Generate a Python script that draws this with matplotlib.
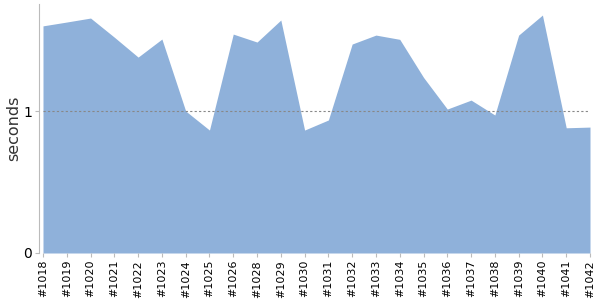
import matplotlib
matplotlib.use("Agg")
import matplotlib.pyplot as plt

# build labels and durations (seconds)
builds = ["#1018", "#1019", "#1020", "#1021", "#1022", "#1023", "#1024", "#1025",
          "#1026", "#1028", "#1029", "#1030", "#1031", "#1032", "#1033", "#1034",
          "#1035", "#1036", "#1037", "#1038", "#1039", "#1040", "#1041", "#1042"]
seconds = [1.60, 1.627, 1.655, 1.52, 1.38, 1.507, 1.0, 0.866,
           1.542, 1.486, 1.641, 0.866, 0.937, 1.472, 1.535, 1.505,
           1.237, 1.014, 1.077, 0.972, 1.535, 1.676, 0.882, 0.887]

fig = plt.figure(figsize=(6, 3), dpi=100)
ax = fig.add_axes([43/600, 1 - 253/300, 547/600, 249/300])

x = list(range(len(builds)))
ax.fill_between(x, seconds, 0, color="#8fb1da", linewidth=0)
ax.axhline(1, color="#888888", linestyle=(0, (2, 2)), linewidth=0.8)

ax.set_xlim(0, len(builds) - 1)
ax.set_ylim(0, 1.754)
ax.set_xticks(x)
ax.set_xticklabels(builds, rotation=90, fontsize=8)
ax.set_yticks([0, 1])
ax.set_yticklabels(["0", "1"], fontsize=9, color="#444444")
ax.set_ylabel("seconds", fontsize=11.5, color="#333333")
ax.yaxis.set_label_coords(-0.04, 0.5)

for s in ["top", "right", "bottom"]:
    ax.spines[s].set_visible(False)
ax.spines["left"].set_position(("outward", 3))
ax.spines["left"].set_color("#bbbbbb")
ax.tick_params(axis="x", length=3, color="#bbbbbb", pad=2)
ax.tick_params(axis="y", length=3, color="#bbbbbb", pad=2)

fig.savefig("out.png", dpi=100)
